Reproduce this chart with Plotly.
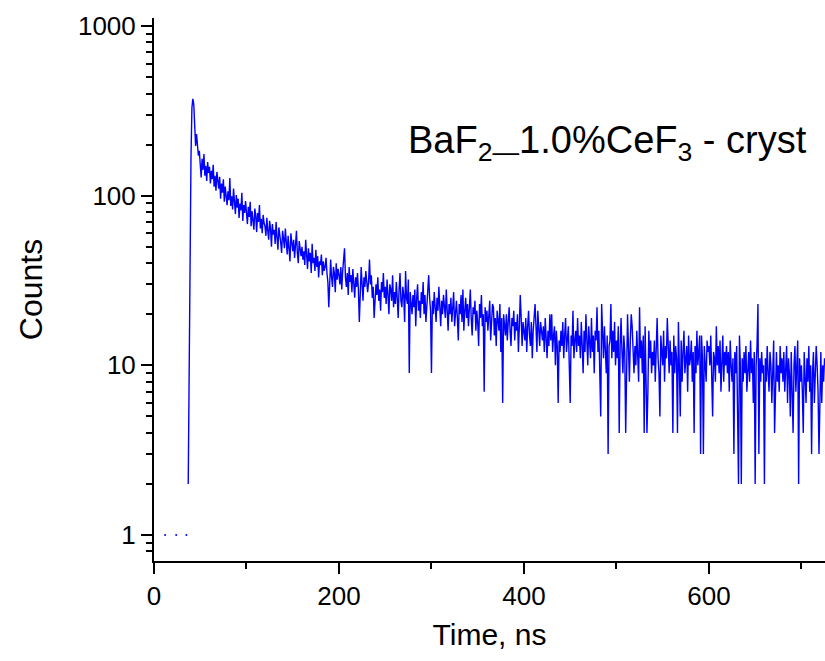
import plotly.graph_objects as go

# ---- data ----
time_start_ns = 0.0
time_step_ns = 1.0
counts = [
    0,0,0,0,0,0,0,0,0,0,0,0,1,0,0,0,0,0,0,0,
    0,0,0,0,1,0,0,0,0,0,0,0,0,0,0,1,0,2,14,60,
    170,330,372,345,262,196,231,205,172,184,150,128,165,142,176,131,150,122,158,136,
    148,118,140,125,152,113,131,107,138,122,110,129,96,118,104,125,92,113,100,88,
    106,94,127,87,99,83,110,92,78,101,85,96,74,90,82,104,71,88,79,93,
    80,68,86,75,92,66,81,72,63,84,76,61,79,70,88,64,73,60,77,69,
    66,58,74,62,55,71,64,50,68,59,63,52,70,57,48,65,60,53,46,62,
    56,49,64,52,45,58,50,41,60,53,47,55,43,51,62,46,40,54,48,44,
    50,42,47,39,55,44,37,49,41,46,35,52,40,43,36,48,38,44,33,41,
    39,45,34,41,36,38,43,35,31,22,36,42,33,29,38,35,27,40,32,37,
    34,30,38,28,36,41,49,33,29,35,26,38,31,34,27,37,30,25,33,29,
    35,28,18,26,38,30,24,33,29,36,31,27,31,42,30,34,25,29,19,27,
    30,26,33,24,28,21,31,27,35,25,29,23,32,26,20,30,28,24,34,22,
    27,23,31,25,19,28,35,24,22,29,26,18,36,25,23,32,9,27,24,20,
    26,22,28,17,25,30,21,24,19,27,23,31,20,26,18,24,29,34,25,21,
    9,24,20,27,22,18,25,21,29,23,17,24,20,26,22,19,28,21,16,23,
    20,25,18,22,27,17,21,24,19,14,23,20,26,18,28,16,21,25,19,23,
    17,25,28,19,15,22,20,24,16,21,18,13,23,19,26,17,20,7,22,18,
    21,16,19,24,14,20,23,22,15,19,13,21,18,16,23,12,19,6,20,17,
    15,20,14,18,22,16,13,19,17,21,14,18,16,20,12,17,26,19,13,18,
    16,14,19,12,17,21,15,13,18,11,16,20,23,17,12,21,15,13,18,16,
    14,17,12,19,15,11,16,13,20,14,20,12,15,17,10,16,13,6,14,12,
    16,13,18,11,15,19,12,14,17,10,6,15,13,21,11,14,16,12,19,13,
    15,11,18,13,9,16,12,20,14,10,17,13,11,19,12,15,9,16,14,22,
    12,16,10,5,23,14,11,17,13,9,15,3,13,14,23,11,16,12,18,10,
    14,11,17,4,13,19,12,9,15,12,4,10,20,13,8,14,20,17,12,9,
    13,10,16,12,8,22,11,14,9,15,4,17,10,4,7,16,11,14,9,12,
    10,14,8,13,19,11,9,5,15,12,10,16,8,13,11,19,12,9,14,10,
    12,4,15,9,13,11,4,18,10,5,14,8,12,16,9,11,13,7,15,10,
    11,14,8,12,4,13,9,16,10,12,15,3,15,11,3,13,10,8,14,12,
    13,10,15,9,5,12,11,8,17,10,13,9,14,7,11,15,8,12,10,13,
    9,12,7,14,10,8,11,3,12,9,13,6,2,15,10,2,11,8,12,9,
    13,7,10,12,8,14,9,11,6,12,2,10,13,23,3,11,8,12,9,10,
    2,11,8,13,9,7,12,10,6,11,14,4,9,12,8,10,7,13,9,11,
    8,12,7,10,13,6,11,9,5,12,8,4,10,13,7,9,14,2,11,8,
    10,7,4,12,9,6,11,8,13,7,10,3,9,12,6,8,13,10,7,3,
    9,12,6,10,8,11,
]
x_tick_vals = [0, 200, 400, 600]
x_tick_text = ["0", "200", "400", "600"]
y_tick_vals = [1, 10, 100, 1000]
y_tick_text = ["1", "10", "100", "1000"]
label_text = "BaF<sub>2—</sub>1.0%CeF<sub>3</sub> - cryst"

times = [time_start_ns + i * time_step_ns for i in range(len(counts))]
y_line = [c if c > 0 else None for c in counts]

# isolated single points (neighbours are zero) are drawn as dots
iso_x, iso_y = [], []
for i, c in enumerate(counts):
    prev_c = counts[i - 1] if i > 0 else 0
    next_c = counts[i + 1] if i + 1 < len(counts) else 0
    if c > 0 and prev_c == 0 and next_c == 0:
        iso_x.append(times[i])
        iso_y.append(c)

FONT = "Liberation Sans, Arial, sans-serif"

fig = go.Figure()
fig.add_trace(go.Scatter(x=times, y=y_line, mode="lines",
                         line=dict(color="#0000ff", width=1.4),
                         connectgaps=False, hoverinfo="x+y", showlegend=False))
fig.add_trace(go.Scatter(x=iso_x, y=iso_y, mode="markers",
                         marker=dict(color="#0000ff", size=2),
                         showlegend=False))

fig.update_layout(
    width=825, height=661,
    margin=dict(l=154, r=0, t=18, b=100),
    paper_bgcolor="white", plot_bgcolor="white",
    font=dict(family=FONT, color="black", size=26),
    showlegend=False,
    annotations=[dict(
        text=label_text, xref="paper", yref="paper",
        x=(607 - 154) / 671, y=(561 - 143) / 543,
        xanchor="center", yanchor="middle", showarrow=False,
        font=dict(family=FONT, size=38, color="black"))],
)

fig.update_xaxes(
    range=[0, 725.5], showgrid=False, zeroline=False,
    showline=True, linecolor="black", linewidth=2,
    ticks="outside", ticklen=11, tickwidth=2, tickcolor="black",
    tickvals=x_tick_vals, ticktext=x_tick_text,
    tickfont=dict(family=FONT, size=26),
    minor=dict(ticks="outside", ticklen=6, tickwidth=2, tickcolor="black",
               dtick=100, showgrid=False),
    title=dict(text="Time, ns", font=dict(family=FONT, size=30), standoff=14),
)
fig.update_yaxes(
    type="log", range=[-0.153, 3.047], showgrid=False, zeroline=False,
    showline=True, linecolor="black", linewidth=2,
    ticks="outside", ticklen=11, tickwidth=2, tickcolor="black",
    tickvals=y_tick_vals, ticktext=y_tick_text,
    tickfont=dict(family=FONT, size=26),
    minor=dict(ticks="outside", ticklen=6, tickwidth=2, tickcolor="black",
               dtick="D1", showgrid=False),
    title=dict(text="Counts", font=dict(family=FONT, size=32), standoff=26),
)

fig.write_html("out.html")
